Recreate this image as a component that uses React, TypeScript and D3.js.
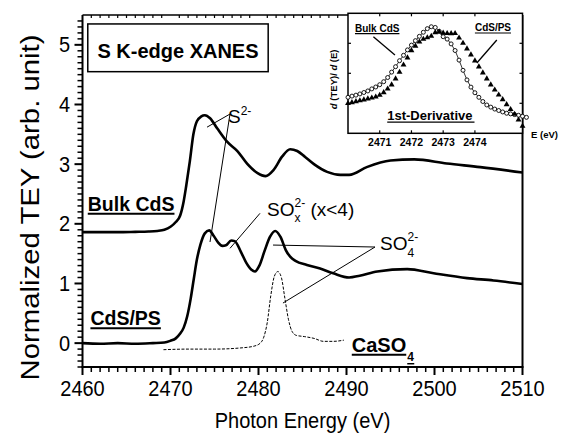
import React, { useEffect, useRef } from "react";
import * as d3 from "d3";

// ---------- main panel data (Photon energy eV, normalized TEY) ----------
const bulkE = [2460, 2462, 2464, 2466, 2467.5, 2468.5, 2469.3, 2470.0, 2470.6, 2471.1, 2471.5, 2471.8, 2472.2, 2472.6, 2473.0, 2473.5, 2473.9, 2474.5, 2475.3, 2476.4, 2477.6, 2478.7, 2479.9, 2480.8, 2481.7, 2482.7, 2483.6, 2484.4, 2485.3, 2486.3, 2487.8, 2489.3, 2490.3, 2492.3, 2495, 2497.7, 2501.4, 2505.2, 2510];
const bulkV = [1.86, 1.86, 1.86, 1.865, 1.87, 1.88, 1.9, 1.95, 2.03, 2.14, 2.38, 2.65, 3.05, 3.5, 3.72, 3.8, 3.82, 3.77, 3.6, 3.38, 3.22, 3.01, 2.85, 2.8, 2.9, 3.13, 3.25, 3.22, 3.12, 3.0, 2.87, 2.82, 2.82, 2.95, 3.06, 3.08, 3.01, 2.95, 2.86];

const psE = [2460, 2462, 2464, 2466, 2468, 2469.3, 2470.0, 2470.6, 2471.1, 2471.5, 2471.9, 2472.3, 2472.65, 2473.0, 2473.4, 2473.9, 2474.4, 2474.9, 2475.4, 2475.9, 2476.3, 2476.9, 2477.3, 2478.0, 2478.6, 2479.2, 2479.6, 2480.1, 2480.7, 2481.3, 2481.9, 2482.5, 2483.1, 2483.6, 2484.2, 2485.5, 2487.0, 2488.5, 2490.3, 2491.5, 2493.5, 2496.9, 2499.9, 2503.7, 2506.7, 2510];
const psV = [0.0, -0.01, 0.0, -0.01, 0.0, 0.01, 0.04, 0.08, 0.16, 0.26, 0.45, 0.75, 1.08, 1.4, 1.65, 1.84, 1.89, 1.8, 1.69, 1.63, 1.64, 1.72, 1.71, 1.53, 1.35, 1.23, 1.2, 1.3, 1.55, 1.78, 1.88, 1.78, 1.56, 1.45, 1.38, 1.31, 1.25, 1.17, 1.1, 1.13, 1.2, 1.24, 1.17, 1.09, 1.05, 0.99];

const caE = [2469.2, 2472, 2475, 2478, 2479.5, 2480.2, 2480.6, 2481.0, 2481.4, 2481.8, 2482.2, 2482.6, 2483.0, 2483.4, 2483.8, 2484.3, 2485.2, 2486.3, 2487.4, 2488.5, 2489.7];
const caV = [-0.11, -0.1, -0.1, -0.08, -0.05, 0.0, 0.1, 0.35, 0.8, 1.12, 1.2, 1.1, 0.75, 0.4, 0.2, 0.13, 0.11, 0.08, 0.03, 0.03, 0.05];

const xMajor = [2460, 2470, 2480, 2490, 2500, 2510];
const yMajor = [0, 1, 2, 3, 4, 5];

// ---------- inset data (1st derivative, arbitrary units) ----------
const insetE = [2470.0, 2470.125, 2470.25, 2470.375, 2470.5, 2470.625, 2470.75, 2470.875, 2471.0, 2471.125, 2471.25, 2471.375, 2471.5, 2471.625, 2471.75, 2471.875, 2472.0, 2472.125, 2472.25, 2472.375, 2472.5, 2472.625, 2472.75, 2472.875, 2473.0, 2473.125, 2473.25, 2473.375, 2473.5, 2473.625, 2473.75, 2473.875, 2474.0, 2474.125, 2474.25, 2474.375, 2474.5, 2474.625, 2474.75, 2474.875, 2475.0, 2475.125, 2475.25, 2475.375, 2475.5, 2475.625];
const insetBulk = [0.3, 0.31, 0.318, 0.328, 0.34, 0.353, 0.37, 0.386, 0.405, 0.43, 0.465, 0.51, 0.555, 0.605, 0.65, 0.695, 0.735, 0.772, 0.808, 0.842, 0.872, 0.888, 0.882, 0.85, 0.805, 0.785, 0.745, 0.69, 0.61, 0.525, 0.445, 0.385, 0.338, 0.3, 0.265, 0.236, 0.218, 0.202, 0.19, 0.178, 0.167, 0.162, 0.156, 0.15, 0.142, 0.133];
const insetPS = [0.25, 0.257, 0.265, 0.273, 0.28, 0.288, 0.296, 0.304, 0.318, 0.34, 0.37, 0.405, 0.455, 0.51, 0.57, 0.63, 0.69, 0.728, 0.762, 0.785, 0.798, 0.81, 0.84, 0.845, 0.836, 0.833, 0.832, 0.833, 0.795, 0.752, 0.705, 0.655, 0.605, 0.555, 0.505, 0.455, 0.405, 0.362, 0.32, 0.282, 0.24, 0.2, 0.16, 0.112, 0.06];
const insetTicks = [2471, 2472, 2473, 2474];
const insetYTicks = [0.25, 0.5, 0.75];

const FONT = "'Liberation Sans', Arial, Helvetica, sans-serif";

export default function App() {
  const ref = useRef<SVGSVGElement>(null);

  useEffect(() => {
    const svg = d3.select(ref.current as SVGSVGElement);
    svg.selectAll("*").remove();
    svg.append("rect").attr("width", 561).attr("height", 434).attr("fill", "#fff");

    const LEFT = 82.5, RIGHT = 522.5, BOTTOM = 367, TOP = 15;
    const x = d3.scaleLinear().domain([2460, 2510]).range([LEFT, RIGHT]);
    const y = d3.scaleLinear().domain([-0.4, 5.5]).range([BOTTOM, TOP]);

    const text = (
      p: any, px: number, py: number, str: string,
      o: { size: number; weight?: string; anchor?: string; sx?: number; sy?: number; rotate?: number }
    ) => {
      const tr = `translate(${px},${py})` + (o.rotate ? ` rotate(${o.rotate})` : "") + ` scale(${o.sx ?? 1},${o.sy ?? 1})`;
      return p.append("text")
        .attr("transform", tr)
        .attr("font-family", FONT)
        .attr("font-size", o.size)
        .attr("font-weight", o.weight ?? "normal")
        .attr("text-anchor", o.anchor ?? "start")
        .attr("fill", "#000")
        .text(str);
    };

    const g = svg.append("g");

    // ---------- ticks as small filled bars ----------
    const tk = svg.append("g").attr("fill", "#000");
    d3.range(2460, 2511, 1).forEach((v) => {
      const major = v % 10 === 0;
      const w = major ? 2 : 1.5;
      tk.append("rect").attr("x", x(v) - w / 2).attr("y", BOTTOM).attr("width", w).attr("height", major ? 8 : 5);
      if (!major) tk.append("rect").attr("x", x(v) - 0.6).attr("y", TOP).attr("width", 1.2).attr("height", 3);
    });
    d3.range(-4, 55, 1).forEach((k) => {
      const major = k % 10 === 0;
      const h = major ? 2 : 1.5;
      const len = major ? 8 : 5;
      tk.append("rect").attr("x", LEFT - len).attr("y", y(k / 10) - h / 2).attr("width", len).attr("height", h);
    });

    xMajor.forEach((v) => text(g, x(v), 396, String(v), { size: 20, anchor: "middle", sy: 1.12 }));
    yMajor.forEach((v) => text(g, 70, y(v) + 7.5, String(v), { size: 20, anchor: "end", sy: 1.08 }));

    // ---------- frame ----------
    g.append("line").attr("x1", LEFT).attr("x2", LEFT).attr("y1", TOP).attr("y2", BOTTOM).attr("stroke", "#000").attr("stroke-width", 2);
    g.append("line").attr("x1", LEFT - 1).attr("x2", RIGHT + 1).attr("y1", BOTTOM).attr("y2", BOTTOM).attr("stroke", "#000").attr("stroke-width", 2);
    g.append("line").attr("x1", RIGHT).attr("x2", RIGHT).attr("y1", TOP).attr("y2", BOTTOM).attr("stroke", "#000").attr("stroke-width", 2);
    g.append("line").attr("x1", LEFT).attr("x2", RIGHT).attr("y1", TOP).attr("y2", TOP).attr("stroke", "#000").attr("stroke-width", 1.5);

    // axis titles
    text(g, 302.5, 428, "Photon Energy (eV)", { size: 20, anchor: "middle", sy: 1.1 });
    text(g, 38.5, 207.5, "Normalized TEY (arb. unit)", { size: 25.5, anchor: "middle", rotate: -90, sx: 1.15 });

    // ---------- curves ----------
    const lineGen = d3.line<[number, number]>().x((d) => x(d[0])).y((d) => y(d[1])).curve(d3.curveMonotoneX);
    const bulk = bulkE.map((e, i) => [e, bulkV[i]] as [number, number]);
    const ps = psE.map((e, i) => [e, psV[i]] as [number, number]);
    const ca = caE.map((e, i) => [e, caV[i]] as [number, number]);
    g.append("path").attr("d", lineGen(bulk)).attr("fill", "none").attr("stroke", "#000").attr("stroke-width", 2.6).attr("stroke-linejoin", "round");
    g.append("path").attr("d", lineGen(ps)).attr("fill", "none").attr("stroke", "#000").attr("stroke-width", 2.6).attr("stroke-linejoin", "round");
    g.append("path").attr("d", lineGen(ca)).attr("fill", "none").attr("stroke", "#000").attr("stroke-width", 1).attr("stroke-dasharray", "3,1.5");

    // ---------- annotations ----------
    const seg = (a: [number, number], b: [number, number], w = 1) =>
      g.append("line").attr("x1", x(a[0])).attr("y1", y(a[1])).attr("x2", x(b[0])).attr("y2", y(b[1])).attr("stroke", "#000").attr("stroke-width", w);

    g.append("rect").attr("x", x(2460.6)).attr("y", y(5.35)).attr("width", x(2481.1) - x(2460.6)).attr("height", y(4.55) - y(5.35))
      .attr("fill", "#fff").attr("stroke", "#000").attr("stroke-width", 1.5);
    text(g, (x(2460.6) + x(2481.1)) / 2, y(4.9) + 7, "S K-edge XANES", { size: 20, weight: "bold", anchor: "middle" });

    const ulabel = (e: number, v: number, str: string, size: number) => {
      const t = text(g, x(e), y(v), str, { size, weight: "bold" });
      const w = (t.node() as SVGTextElement).getComputedTextLength();
      g.append("line").attr("x1", x(e)).attr("x2", x(e) + w).attr("y1", y(v) + 3).attr("y2", y(v) + 3).attr("stroke", "#000").attr("stroke-width", 2);
      return w;
    };
    ulabel(2460.6, 2.22, "Bulk CdS", 19.5);
    ulabel(2460.9, 0.3, "CdS/PS", 19.5);
    const wCa = ulabel(2490.6, -0.144, "CaSO", 20);
    text(g, x(2490.6) + wCa + 1, y(-0.144) + 9, "4", { size: 12, weight: "bold" });
    g.append("line").attr("x1", x(2490.6) + wCa + 1).attr("x2", x(2490.6) + wCa + 8).attr("y1", y(-0.144) + 12).attr("y2", y(-0.144) + 12).attr("stroke", "#000").attr("stroke-width", 1.5);

    const s2 = text(g, x(2476.53), y(3.684), "S", { size: 19 });
    s2.append("tspan").attr("font-size", 12).attr("dy", -8).text("2-");
    seg([2476.76, 3.84], [2474.15, 3.62]);
    seg([2476.76, 3.84], [2474.49, 1.695]);

    const sox = text(g, x(2480.97), y(2.13), "SO", { size: 19 });
    sox.append("tspan").attr("font-size", 12).attr("dy", 6).text("x");
    sox.append("tspan").attr("font-size", 12).attr("dx", -6).attr("dy", -15).text("2-");
    sox.append("tspan").attr("font-size", 19).attr("dy", 9).text(" (x<4)");
    seg([2480.17, 2.176], [2476.76, 1.589]);

    const s4 = text(g, x(2493.81), y(1.56), "SO", { size: 19 });
    s4.append("tspan").attr("font-size", 12).attr("dy", 7).text("4");
    s4.append("tspan").attr("font-size", 12).attr("dx", -6.7).attr("dy", -16).text("2-");
    seg([2493.24, 1.611], [2481.65, 1.644]);
    seg([2493.24, 1.611], [2482.78, 0.672]);

    // ---------- inset ----------
    const xi = d3.scaleLinear().domain([2470, 2475.5]).range([348, 522.5]);
    const yi = d3.scaleLinear().domain([0, 1]).range([133.3, 13.3]);
    const ig = svg.append("g");
    ig.append("rect").attr("x", 348).attr("y", yi(1)).attr("width", xi(2475.5) - 348).attr("height", yi(0) - yi(1))
      .attr("fill", "#fff").attr("stroke", "#000").attr("stroke-width", 1.5);
    insetTicks.forEach((v) => {
      ig.append("rect").attr("x", xi(v) - 0.6).attr("y", yi(0) - 3).attr("width", 1.2).attr("height", 3).attr("fill", "#000");
      ig.append("rect").attr("x", xi(v) - 0.6).attr("y", yi(1)).attr("width", 1.2).attr("height", 3).attr("fill", "#000");
      text(ig, xi(v), 146, String(v), { size: 10.5, weight: "bold", anchor: "middle" });
    });
    insetYTicks.forEach((v) => {
      ig.append("rect").attr("x", 348).attr("y", yi(v) - 0.6).attr("width", 3).attr("height", 1.2).attr("fill", "#000");
      ig.append("rect").attr("x", xi(2475.5) - 3).attr("y", yi(v) - 0.6).attr("width", 3).attr("height", 1.2).attr("fill", "#000");
    });
    text(ig, 531, 138, "E (eV)", { size: 9.5, weight: "bold" });
    const yl = text(ig, 337, yi(0.45), "", { size: 9.5, weight: "bold", anchor: "middle", rotate: -90 });
    yl.append("tspan").attr("font-style", "italic").text("d");
    yl.append("tspan").text(" (TEY)/ ");
    yl.append("tspan").attr("font-style", "italic").text("d");
    yl.append("tspan").text(" (E)");

    const iline = d3.line<[number, number]>().x((d) => xi(d[0])).y((d) => yi(d[1]));
    const ib = insetE.map((e, i) => [e, insetBulk[i]] as [number, number]);
    const ip = insetE.slice(0, insetPS.length).map((e, i) => [e, insetPS[i]] as [number, number]);
    ig.append("path").attr("d", iline(ib)).attr("fill", "none").attr("stroke", "#000").attr("stroke-width", 0.8);
    ig.selectAll("circle.b").data(ib).enter().append("circle")
      .attr("cx", (d) => xi(d[0])).attr("cy", (d) => yi(d[1])).attr("r", 2)
      .attr("fill", "#fff").attr("stroke", "#000").attr("stroke-width", 0.9);
    const tri = d3.symbol().type(d3.symbolTriangle).size(15);
    ig.selectAll("path.t").data(ip).enter().append("path")
      .attr("d", tri() as string)
      .attr("transform", (d) => `translate(${xi(d[0])},${yi(d[1])})`)
      .attr("fill", "#000");

    const iul = (e: number, v: number, str: string, size: number, anchor = "start") => {
      const t = text(ig, xi(e), yi(v), str, { size, weight: "bold", anchor });
      const w = (t.node() as SVGTextElement).getComputedTextLength();
      const sx0 = anchor === "middle" ? xi(e) - w / 2 : xi(e);
      ig.append("line").attr("x1", sx0).attr("x2", sx0 + w + (anchor === "middle" ? 2 : 0)).attr("y1", yi(v) + 2).attr("y2", yi(v) + 2).attr("stroke", "#000").attr("stroke-width", 1.2);
    };
    iul(2470.22, 0.847, "Bulk CdS", 10);
    iul(2474.0, 0.8525, "CdS/PS", 10);
    iul(2472.58, 0.11, "1st-Derivative", 13, "middle");
    const iseg = (a: [number, number], b: [number, number]) =>
      ig.append("line").attr("x1", xi(a[0])).attr("y1", yi(a[1])).attr("x2", xi(b[0])).attr("y2", yi(b[1])).attr("stroke", "#000").attr("stroke-width", 1.3);
    iseg([2470.8, 0.805], [2471.48, 0.6525]);
    iseg([2474.69, 0.7775], [2474.06, 0.586]);
  }, []);

  return <svg ref={ref} width={561} height={434} style={{ position: "absolute", left: 0, top: 0 }} />;
}
